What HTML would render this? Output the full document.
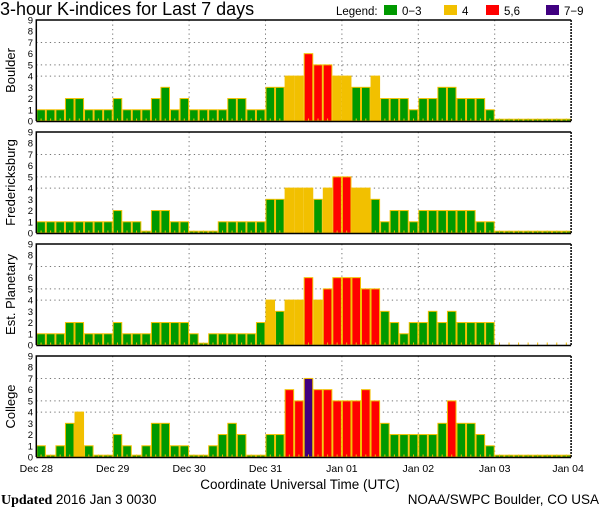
<!DOCTYPE html>
<html><head><meta charset="utf-8">
<style>
body{margin:0;background:#fff;}
svg{display:block;font-family:"Liberation Sans",sans-serif;}
</style></head>
<body>
<svg id="chart" width="600" height="510" xmlns="http://www.w3.org/2000/svg">
<text x="0" y="15" font-size="18" fill="#000">3-hour K-indices for Last 7 days</text>
<g font-size="11.5">
<text x="336" y="15">Legend:</text>
<rect x="384" y="5" width="13" height="10" fill="#009900"/>
<text x="402" y="15">0−3</text>
<rect x="444" y="5" width="13" height="10" fill="#f2c000"/>
<text x="462" y="15">4</text>
<rect x="486" y="5" width="13" height="10" fill="#ff0000"/>
<text x="504" y="15">5,6</text>
<rect x="546" y="5" width="13" height="10" fill="#400080"/>
<text x="564" y="15">7−9</text>
</g>
<text x="300" y="489" font-size="13.5" text-anchor="middle">Coordinate Universal Time (UTC)</text>
<text x="1" y="504" font-size="14" font-family="Liberation Serif, serif" font-weight="bold">Updated <tspan font-family="Liberation Sans, sans-serif" font-weight="normal" font-size="13.5">2016 Jan  3 0030</tspan></text>
<text x="599" y="504" font-size="13.5" text-anchor="end">NOAA/SWPC Boulder, CO USA</text>
</svg>
<script>
const dayLabels = ["Dec 28","Dec 29","Dec 30","Dec 31","Jan 01","Jan 02","Jan 03","Jan 04"];
const stationNames = ["Boulder","Fredericksburg","Est. Planetary","College"];
const boulder = [1,1,1,2,2,1,1,1, 2,1,1,1,2,3,1,2, 1,1,1,1,2,2,1,1, 3,3,4,4,6,5,5,4, 4,3,3,4,2,2,2,1, 2,2,3,3,2,2,2,1, 0,0,0,0,0,0,0,0];
const fredericksburg = [1,1,1,1,1,1,1,1, 2,1,1,0,2,2,1,1, 0,0,0,1,1,1,1,1, 3,3,4,4,4,3,4,5, 5,4,4,3,1,2,2,1, 2,2,2,2,2,2,1,1, 0,0,0,0,0,0,0,0];
const planetary = [1,1,1,2,2,1,1,1, 2,1,1,1,2,2,2,2, 1,0,1,1,1,1,1,2, 4,3,4,4,6,4,5,6, 6,6,5,5,3,2,1,2, 2,3,2,3,2,2,2,2, null,null,null,null,null,null,null,null];
const college = [1,0,1,3,4,1,0,0, 2,1,0,1,3,3,1,1, 0,0,1,2,3,2,0,0, 2,2,6,5,7,6,6,5, 5,5,6,5,3,2,2,2, 2,2,3,5,3,3,2,1, 0,0,0,0,0,0,0,0];
const yTicks = [0,1,2,3,4,5,6,7,8,9];
const gridLevels = [4,5,7];

const svg = document.getElementById('chart');
const NS = 'http://www.w3.org/2000/svg';
const X0 = 36.3, DAYW = 76.4, BARW = DAYW/8, PH = 101;
const panelTops = [20,132,244,356];
const series = [boulder, fredericksburg, planetary, college];
function mk(tag, attrs, parent){const e=document.createElementNS(NS,tag);for(const k in attrs)e.setAttribute(k,attrs[k]);(parent||svg).appendChild(e);return e;}
function xScale(i){return X0 + i*BARW;}
function color(v){return v>=7?'#400080':v>=5?'#ff0000':v===4?'#f2c000':'#009900';}

series.forEach((data, p) => {
  const top = panelTops[p], base = top + PH;
  const yScale = v => base - v*(PH/9);
  const g = mk('g', {});
  
  
  gridLevels.forEach(l => {
    const ln = mk('line', {x1:X0, x2:X0+7*DAYW, y1:yScale(l), y2:yScale(l), stroke:'#777', 'stroke-dasharray':'1.3,3.2', 'stroke-width':1}, g);
    
    
  });
  for (let d=1; d<7; d++) {
    const ln = mk('line', {x1:X0+d*DAYW, x2:X0+d*DAYW, y1:top, y2:base, stroke:'#777', 'stroke-dasharray':'1.3,3.2', 'stroke-width':1}, g);
    
    
  }
  data.forEach((v, i) => {
    const x = xScale(i);
    if (v !== null) {
      const h = v === 0 ? 1.8 : v*(PH/9);
      const r = mk('rect', {x:x+0.5, y:base-h, width:BARW-1, height:h, fill:color(v), stroke:'#f2c000', 'stroke-width':1}, g);
      
      
    }
    const t = mk('rect', {x:x+BARW/2-0.5, y:base-2.5, width:1, height:2.5, fill:'#f2c000'}, g);
    
    
  });
  const f1 = mk('path', {d:`M${X0},${base} L${X0},${top} L${X0+7*DAYW},${top}`, fill:'none', stroke:'#000', 'stroke-width':1.5}, g);
  
  
  const f2 = mk('line', {x1:X0, x2:X0+7*DAYW, y1:base+0.5, y2:base+0.5, stroke:'#000', 'stroke-width':1.5}, g);
  
  
  const f3 = mk('line', {x1:X0+7*DAYW, x2:X0+7*DAYW, y1:top, y2:base, stroke:'#000', 'stroke-dasharray':'2,1', 'stroke-width':1.5}, g);
  
  
  yTicks.forEach(t => {
    const tx = mk('text', {x:33, y:yScale(t)+3.5, 'font-size':9.5, 'text-anchor':'end'}, g);
    
    
    tx.textContent = t;
  });
  const yt = mk('text', {x:0, y:0, 'font-size':13, 'text-anchor':'middle', transform:`translate(15,${top+PH/2}) rotate(-90)`}, g);
  
  
  yt.textContent = stationNames[p];
});
dayLabels.forEach((lab, d) => {
  const tx = mk('text', {x:X0+d*DAYW - (d===7?3:0), y:472, 'font-size':10.5, 'text-anchor':'middle'});
  
  
  tx.textContent = lab;
});
</script>
</body></html>
